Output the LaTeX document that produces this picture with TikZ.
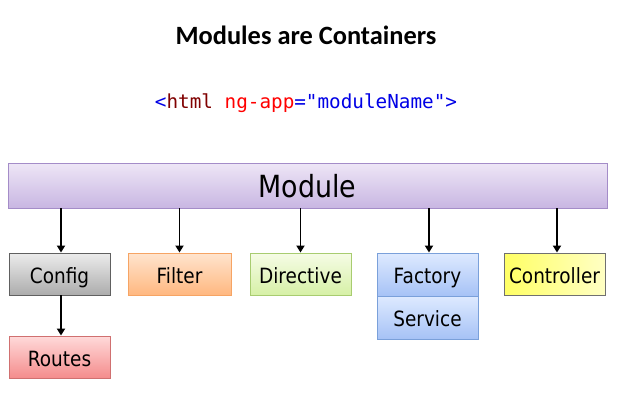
\documentclass[tikz,border=0pt]{standalone}
\usepackage{fontspec}
\usetikzlibrary{arrows.meta}
\newfontfamily\titlefont{Carlito}
\newfontfamily\boxfont{DejaVu Sans}[FakeStretch=0.88]
\newfontfamily\codefont{DejaVu Sans Mono}

\definecolor{codeblue}{RGB}{0,0,230}
\definecolor{codemaroon}{RGB}{128,0,0}
\definecolor{codered}{RGB}{255,0,0}

\tikzset{
  box/.style={draw, line width=0.9pt, minimum width=101pt, minimum height=42pt,
    inner sep=0pt, text height=18pt, text depth=0pt,
    font=\boxfont\fontsize{21}{24}\selectfont},
  link/.style={line width=1.9pt, -{Triangle[length=7pt,width=8pt]}},
}

\begin{document}
\begin{tikzpicture}[x=1pt,y=-1pt]
  \useasboundingbox[fill=white] (0,0) rectangle (625,407);

  % heading and markup line
  \node (title) at (306,35) {\titlefont\bfseries\fontsize{26.4}{30}\selectfont Modules are Containers};
  \node (code) at (306,103) {\codefont\fontsize{19.3}{22}\selectfont
    \textcolor{codeblue}{<}\textcolor{codemaroon}{html}\ \textcolor{codered}{ng-app}\textcolor{codeblue}{="moduleName">}};

  % module bar
  \node[box, draw={rgb,255:red,164;green,140;blue,200},
        top color={rgb,255:red,238;green,230;blue,246},
        bottom color={rgb,255:red,200;green,182;blue,226},
        minimum width=599pt, minimum height=45pt, text height=23.5pt,
        font=\boxfont\fontsize{30.5}{34}\selectfont] (module) at (307.5,185.5) {Module};

  % components
  \node[box, draw={rgb,255:red,96;green,96;blue,96},
        top color={rgb,255:red,236;green,236;blue,236},
        bottom color={rgb,255:red,172;green,172;blue,172}] (config) at (59.5,274) {Config};
  \node[box, draw={rgb,255:red,246;green,164;blue,100},
        top color={rgb,255:red,255;green,228;blue,206},
        bottom color={rgb,255:red,255;green,184;blue,128},
        minimum width=103pt] (filter) at (179.5,274) {Filter};
  \node[box, draw={rgb,255:red,168;green,204;blue,112},
        top color={rgb,255:red,246;green,252;blue,230},
        bottom color={rgb,255:red,214;green,240;blue,166}] (directive) at (300.5,274) {Directive};
  \node[box, draw={rgb,255:red,122;green,160;blue,218},
        top color={rgb,255:red,222;green,234;blue,255},
        bottom color={rgb,255:red,166;green,194;blue,246},
        minimum height=43pt] (factory) at (427.5,274.5) {Factory};
  \node[box, draw={rgb,255:red,122;green,160;blue,218},
        top color={rgb,255:red,222;green,234;blue,255},
        bottom color={rgb,255:red,166;green,194;blue,246},
        minimum height=43pt] (service) at (427.5,317.5) {Service};
  \node[box, draw={rgb,255:red,112;green,112;blue,112},
        left color={rgb,255:red,255;green,255;blue,100},
        right color={rgb,255:red,255;green,255;blue,196}] (controller) at (554.5,274) {Controller};
  \node[box, draw={rgb,255:red,208;green,112;blue,112},
        top color={rgb,255:red,255;green,218;blue,218},
        bottom color={rgb,255:red,244;green,140;blue,140}] (routes) at (59.5,357) {Routes};

  % connectors
  \draw[link] ([xshift=1.5pt]config.north |- module.south) -- ([xshift=1.5pt]config.north);
  \draw[link] (filter.north |- module.south) -- (filter.north);
  \draw[link] (directive.north |- module.south) -- (directive.north);
  \draw[link] ([xshift=1.5pt]factory.north |- module.south) -- ([xshift=1.5pt]factory.north);
  \draw[link] ([xshift=2.5pt]controller.north |- module.south) -- ([xshift=2.5pt]controller.north);
  \draw[link] ([xshift=1.5pt]config.south) -- ([xshift=1.5pt]routes.north);
\end{tikzpicture}
\end{document}
